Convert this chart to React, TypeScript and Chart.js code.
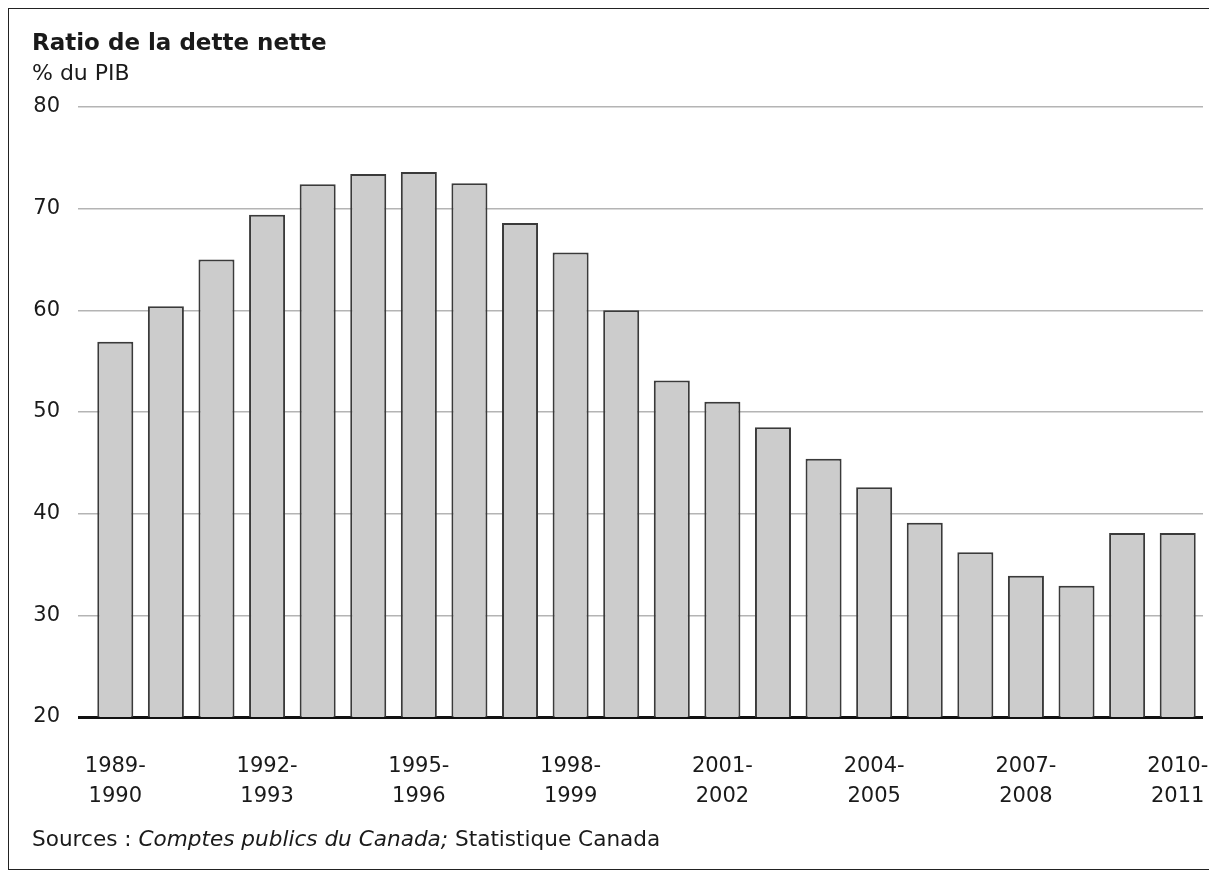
import React, { useEffect, useRef } from "react";
import { Chart, registerables } from "chart.js";

Chart.register(...registerables);

const categories: string[] = [
  "1989-1990", "1990-1991", "1991-1992", "1992-1993", "1993-1994", "1994-1995",
  "1995-1996", "1996-1997", "1997-1998", "1998-1999", "1999-2000", "2000-2001",
  "2001-2002", "2002-2003", "2003-2004", "2004-2005", "2005-2006", "2006-2007",
  "2007-2008", "2008-2009", "2009-2010", "2010-2011",
];

const netDebtRatio: number[] = [
  56.9, 60.4, 65.0, 69.4, 72.4, 73.4, 73.6, 72.5, 68.6, 65.7, 60.0,
  53.1, 51.0, 48.5, 45.4, 42.6, 39.1, 36.2, 33.9, 32.9, 38.1, 38.1,
];

const yMin = 20;
const yMax = 80;
const yStep = 10;

const FONT = "'DejaVu Sans', sans-serif";

export default function App() {
  const canvasRef = useRef<HTMLCanvasElement | null>(null);

  useEffect(() => {
    const canvas = canvasRef.current;
    if (!canvas) return;
    const chart = new Chart(canvas, {
      type: "bar",
      data: {
        labels: categories,
        datasets: [
          {
            data: netDebtRatio,
            backgroundColor: "#cccccc",
            borderColor: "#3a3a3a",
            borderWidth: 2,
            categoryPercentage: 1,
            barPercentage: 0.712,
          },
        ],
      },
      options: {
        responsive: false,
        animation: false,
        devicePixelRatio: 1,
        layout: { padding: { left: 0, right: 6, top: 98, bottom: 32 } },
        plugins: {
          legend: { display: false },
          tooltip: { enabled: false },
          title: { display: false },
        },
        scales: {
          x: {
            offset: true,
            grid: { display: false, drawTicks: false },
            border: { display: false },
            afterFit: (scale: any) => {
              scale.height = 120;
              scale.paddingLeft = 0;
              scale.paddingRight = 0;
            },
            ticks: {
              autoSkip: false,
              maxRotation: 0,
              minRotation: 0,
              padding: 35,
              color: "#1a1a1a",
              font: { family: FONT, size: 21, lineHeight: 1.4 },
              callback: (_v: any, i: number) => {
                if (i % 3 !== 0) return "";
                const parts = categories[i].split("-");
                return [parts[0] + "-", parts[1]];
              },
            },
          },
          y: {
            min: yMin,
            max: yMax,
            border: { display: false },
            afterFit: (scale: any) => {
              scale.width = 81;
            },
            grid: {
              drawTicks: true,
              tickLength: 12,
              color: (ctx: any) => (ctx.tick && ctx.tick.value === yMin ? "#111111" : "#b4b4b4"),
              lineWidth: (ctx: any) => (ctx.tick && ctx.tick.value === yMin ? 3 : 1.5),
            },
            ticks: {
              stepSize: yStep,
              padding: 18,
              color: "#1a1a1a",
              font: { family: FONT, size: 21 },
            },
          },
        },
      },
    });
    return () => chart.destroy();
  }, []);

  const line = "#222";

  return (
    <div
      style={{
        position: "relative",
        width: 1209,
        height: 872,
        overflow: "hidden",
        fontFamily: FONT,
        color: "#1a1a1a",
        background: "#fff",
      }}
    >
      <style>{`html, body { margin: 0; padding: 0; }`}</style>
      <div style={{ position: "absolute", left: 8, top: 8, width: 1, height: 862, background: line }} />
      <div style={{ position: "absolute", left: 8, top: 8, width: 1201, height: 1, background: line }} />
      <div style={{ position: "absolute", left: 8, top: 869, width: 1201, height: 1, background: line }} />
      <canvas
        ref={canvasRef}
        width={1200}
        height={860}
        style={{ position: "absolute", left: 9, top: 9, width: 1200, height: 860 }}
      />
      <div
        style={{
          position: "absolute",
          left: 32,
          top: 31,
          fontSize: 23,
          lineHeight: "23px",
          fontWeight: "bold",
          whiteSpace: "nowrap",
        }}
      >
        Ratio de la dette nette
      </div>
      <div
        style={{
          position: "absolute",
          left: 32,
          top: 62,
          fontSize: 22,
          lineHeight: "21px",
          whiteSpace: "nowrap",
        }}
      >
        % du PIB
      </div>
      <div
        style={{
          position: "absolute",
          left: 32,
          top: 828,
          fontSize: 21.6,
          lineHeight: "21px",
          whiteSpace: "nowrap",
        }}
      >
        Sources : <i>Comptes publics du Canada;</i> Statistique Canada
      </div>
    </div>
  );
}
